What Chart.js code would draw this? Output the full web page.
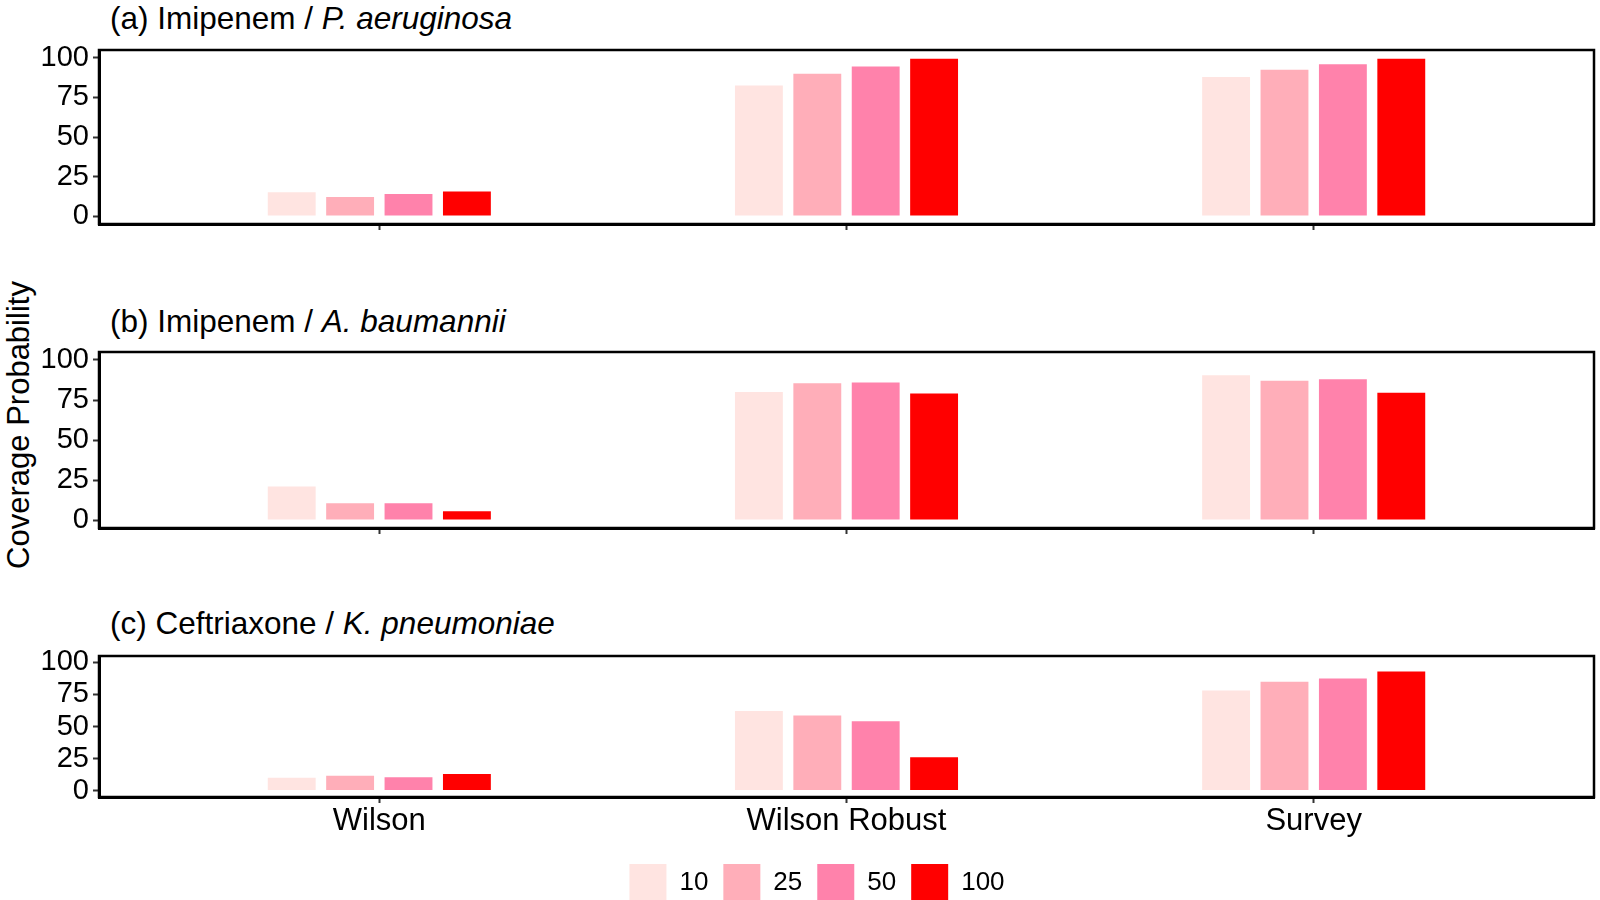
<!DOCTYPE html>
<html>
<head>
<meta charset="utf-8">
<script src="https://cdn.jsdelivr.net/npm/chart.js@4.4.1/dist/chart.umd.min.js"></script>
<style>
  html, body { margin: 0; padding: 0; width: 1600px; height: 900px; overflow: hidden; background: #fff; font-family: "Liberation Sans", Arial, sans-serif; }
  canvas { position: absolute; left: 0; }
  .title { position: absolute; left: 110px; font-size: 31.5px; line-height: 32px; color: #000; white-space: nowrap; }
  #ytitle { position: absolute; left: 18px; top: 425px; font-size: 31px; line-height: 31px; white-space: nowrap; transform: translate(-50%, -50%) rotate(-90deg); }
</style>
</head>
<body>
<div class="title" style="top:2px">(a) Imipenem / <i>P. aeruginosa</i></div>
<div class="title" style="top:305px">(b) Imipenem / <i>A. baumannii</i></div>
<div class="title" style="top:607px">(c) Ceftriaxone / <i>K. pneumoniae</i></div>
<div id="ytitle">Coverage Probability</div>
<canvas id="chartA" width="1600" height="194" style="top:40px"></canvas>
<canvas id="chartB" width="1600" height="196" style="top:342px"></canvas>
<canvas id="chartC" width="1600" height="265" style="top:646px"></canvas>
<script>
const categories = ['Wilson', 'Wilson Robust', 'Survey'];
const sampleSizes = ['10', '25', '50', '100'];
const yTicks = [0, 25, 50, 75, 100];

// (a) Imipenem / P. aeruginosa
const paeru10 = [15, 82.5, 88];
const paeru25 = [12, 90, 92.5];
const paeru50 = [14, 94.5, 96];
const paeru100 = [15.5, 99.5, 99.5];

// (b) Imipenem / A. baumannii
const abau10 = [21, 80, 90.5];
const abau25 = [10.5, 85.5, 87];
const abau50 = [10.5, 86, 88];
const abau100 = [5.5, 79, 79.5];

// (c) Ceftriaxone / K. pneumoniae
const kpneu10 = [10, 62, 78];
const kpneu25 = [11.5, 58.5, 85];
const kpneu50 = [10.5, 54, 87.5];
const kpneu100 = [13, 26, 93];

const fills = ['#FFE4E1', '#FFAEB9', '#FF82AB', '#FF0000'];
const fontFamily = '"Liberation Sans", Arial, sans-serif';

const panelBox = {
    id: 'panelBox',
    afterDraw(chart) {
        const { ctx, chartArea } = chart;
        ctx.save();
        ctx.strokeStyle = '#000';
        ctx.lineWidth = 2.5;
        ctx.strokeRect(chartArea.left, chartArea.top, chartArea.right - chartArea.left, chartArea.bottom - chartArea.top);
        ctx.restore();
    }
};

function makePanel(canvasId, series, isBottom) {
    const tickGrid = {
        offset: false,
        drawOnChartArea: false,
        drawTicks: true,
        tickLength: 6,
        tickColor: '#333',
        tickWidth: 2
    };

    return new Chart(document.getElementById(canvasId), {
        type: 'bar',
        data: {
            labels: [1, 2, 3],
            datasets: series.map((values, i) => ({
                label: sampleSizes[i],
                data: values,
                backgroundColor: fills[i],
                borderWidth: 0,
                categoryPercentage: 0.5,
                barPercentage: 0.82
            }))
        },
        options: {
            responsive: false,
            animation: false,
            layout: { padding: { left: 40, right: 6, top: 10, bottom: 0 } },
            plugins: {
                legend: {
                    display: isBottom,
                    position: 'bottom',
                    labels: {
                        boxWidth: 37,
                        boxHeight: 37,
                        padding: 15,
                        color: '#000',
                        font: { size: 26, family: fontFamily }
                    }
                },
                tooltip: { enabled: false }
            },
            scales: {
                x: {
                    type: 'linear',
                    min: 0.4,
                    max: 3.6,
                    offset: false,
                    grid: tickGrid,
                    border: { color: '#000', width: 3 },
                    ticks: {
                        color: '#000',
                        padding: 0,
                        maxRotation: 0,
                        autoSkip: false,
                        font: { size: 31, family: fontFamily },
                        callback: function(value) {
                            return isBottom ? categories[value - 1] : '';
                        }
                    },
                    afterBuildTicks: function(scale) {
                        scale.ticks = categories.map((c, i) => ({ value: i + 1 }));
                    },
                    afterFit: function(scale) {
                        scale.height = isBottom ? 52 : 10;
                        scale.paddingLeft = 0;
                        scale.paddingRight = 0;
                    }
                },
                y: {
                    min: -5,
                    max: 105,
                    grid: tickGrid,
                    border: { color: '#000', width: 3 },
                    ticks: {
                        color: '#000',
                        padding: 4,
                        autoSkip: false,
                        font: { size: 29, family: fontFamily }
                    },
                    afterBuildTicks: function(scale) {
                        scale.ticks = yTicks.map(v => ({ value: v }));
                    },
                    afterFit: function(scale) {
                        scale.width = 59;
                        scale.paddingTop = 0;
                        scale.paddingBottom = 0;
                    }
                }
            }
        },
        plugins: [panelBox]
    });
}

makePanel('chartA', [paeru10, paeru25, paeru50, paeru100], false);
makePanel('chartB', [abau10, abau25, abau50, abau100], false);
makePanel('chartC', [kpneu10, kpneu25, kpneu50, kpneu100], true);
</script>
</body>
</html>
